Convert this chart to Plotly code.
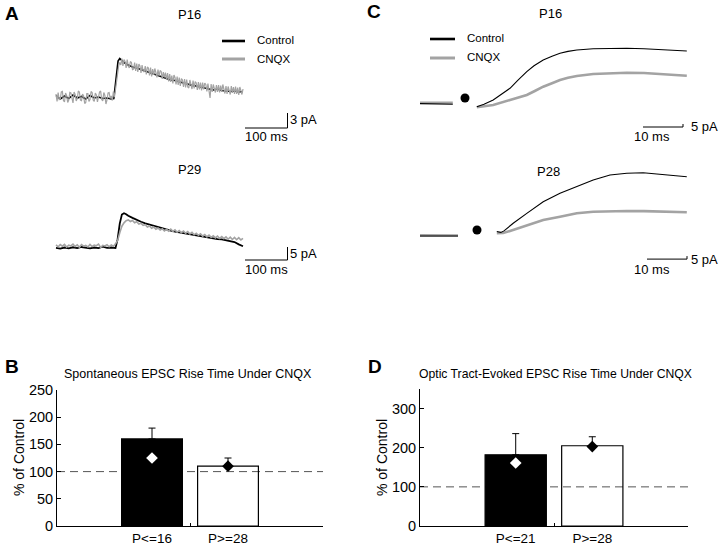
import plotly.graph_objects as go

FONT = "Liberation Sans, Arial, Helvetica, sans-serif"
W, H = 720, 547

# ---------------- data ----------------
# Panel A: spontaneous EPSCs (time in ms, current in pA)
a16_dt = 2.5  # P16 CNQX sweep sampled every 2.5 ms from t = 0
a16_cnqx = [0.6, -0.9, 0.9, -0.5, -0.4, 1.0, 1.1, -0.7, -1.0, 0.8,
            0.3, -1.1, -0.6, 0.9, 0.8, -0.4, -1.2, 1.0, 0.5, -0.8,
            -0.3, 1.2, 1.0, -0.6, -0.7, 0.6, 0.2, -1.3, -1.1, 0.7,
            0.7, -0.9, -0.5, 1.1, 0.9, -0.6, -0.9, 0.8, 0.4, -1.0,
            -0.2, 1.0, 1.2, -0.5, -0.8, 0.9, 0.3, -1.4, -0.6, 0.8,
            0.9, -0.3, 0.2, -0.7, 1.1, 0.0,
            1.5, 3.5, 5.5, 6.3, 6.9,
            6.4, 7.7, 6.2, 7.5, 7.1, 5.8, 7.5, 6.2, 5.8, 7.1, 6.9, 5.5,
            5.6, 6.9, 5.2, 6.7, 5.0, 6.6, 6.2, 4.8, 6.4, 5.2, 5.0, 6.2, 4.5, 6.0, 5.8, 4.3,
            5.9, 4.1, 5.6, 4.4, 5.7, 4.9, 3.9, 5.5, 4.2, 5.3, 5.1, 3.6, 5.0, 3.9, 4.9, 3.4,
            4.8, 3.1, 4.6, 3.0, 4.3, 2.7, 4.4, 3.9, 2.5, 4.1, 2.4, 3.9, 2.2, 3.7, 3.4, 2.0,
            3.6, 1.9, 3.5, 2.0, 1.8, 3.4, 2.4, 1.6, 3.3, 1.7, 3.1, 2.8, 1.4, 3.0, 1.5, 2.9,
            1.3, 2.9, 1.5, 2.8, 2.5, 1.1, 2.7, 1.2, -0.2, 2.6, 1.0, 2.5, 1.6, 0.9, 2.4, 1.0,
            2.4, 0.9, 2.3, 1.0, 2.5, 1.8, 0.7, 2.2, 0.6, 2.1, 1.5, 0.5, 2.2, 0.8, 2.0, 0.6,
            2.1, 0.6, 1.9, 0.4, 2.0, 1.3, 0.5, 1.6]
a16_ctrl_t = [0, 10, 20, 30, 40, 50, 60, 70, 80, 90, 100, 110, 120, 130,
              136, 141, 146, 150, 155, 160,
              170, 180, 190, 200, 210, 220, 230, 240, 250, 260, 270, 280, 290, 300,
              310, 320, 330, 340, 350, 360, 370, 380, 390, 400, 410, 420, 430, 440]
a16_ctrl = [0.3, -0.4, 0.2, -0.3, 0.4, -0.2, 0.1, -0.4, 0.3, -0.2, 0.0, -0.3, -0.2, -0.4,
            -0.3, 3.5, 7.2, 7.7, 7.2, 6.9,
            6.4, 6.0, 5.8, 5.5, 5.2, 4.9, 4.6, 4.3, 4.0, 3.7, 3.4, 3.3, 3.0, 2.8,
            2.6, 2.3, 2.2, 2.0, 1.9, 1.7, 1.4, 1.6, 1.3, 1.2, 1.1, 1.2, 1.0, 1.1]
a29_dt = 5  # P29 CNQX sweep sampled every 5 ms from t = 0
a29_cnqx = [0.8, 0.1, 0.9, 0.3, 1.0, 0.0, 0.7, 0.4, 1.1, 0.2, 0.8, -0.1, 0.9, 0.3, 0.6,
            0.0, 1.0, 0.2, 0.7, 0.5, 1.1, -0.2, 0.6, 0.4, 0.9, 0.1, 0.8, 0.3, 1.2,
            2.5, 5.5, 8.0, 9.3, 10.1, 10.4, 9.8, 10.2, 9.3, 9.7,
            8.8, 9.1, 8.3, 8.6, 7.7, 8.1, 7.2, 7.7, 6.8, 7.3,
            6.5, 7.0, 6.2, 6.8, 6.1, 6.9, 6.0, 6.6, 5.7, 6.3,
            5.5, 6.1, 5.3, 5.9, 5.0, 5.6, 4.7, 5.3, 4.5, 5.1,
            4.2, 4.8, 3.9, 4.6, 3.7, 4.3, 3.5, 4.2, 3.3, 4.0,
            3.2, 3.9, 3.0, 3.8, 2.9, 3.7, 2.8, 3.6, 2.7, 3.3]
a29_ctrl_t = [0, 10, 20, 30, 40, 50, 60, 70, 80, 90, 100, 110, 120, 130, 140,
              145, 150, 155, 160, 165, 170,
              180, 190, 200, 210, 220, 230, 240, 250, 260, 270, 280, 290, 300, 310,
              320, 330, 340, 350, 360, 370, 380, 390, 400, 410, 420, 430, 440]
a29_ctrl = [-0.3, -0.6, -0.2, -0.5, -0.1, -0.4, 0.0, -0.3, -0.5, -0.2, -0.4, 0.1, -0.3, -0.2, -0.4,
            3.0, 9.0, 12.5, 13.0, 12.6, 12.0,
            11.2, 10.3, 9.7, 9.1, 8.6, 8.1, 7.5, 7.0, 6.6, 6.3, 5.9, 5.6, 5.4, 5.0,
            4.6, 4.3, 4.1, 3.8, 3.4, 3.2, 3.0, 2.9, 2.6, 2.2, 1.9, 1.0, 0.3]
a_scale_ms = 100
a16_scale_pa = 3
a29_scale_pa = 5

# Panel C: optic-tract evoked EPSCs (time in ms, current in pA)
c16_ctrl_t = [0, 2, 4, 6, 8.2, None, 14.2, 16, 18.3, 20, 22.5, 24.5, 26.7, 28.5, 30.8, 33,
              35, 37, 39.2, 43.3, 47, 51.7, 56, 60, 63, 66.7]
c16_ctrl = [-1, -1, -1.5, -1.5, -2, None, -6.2, -2, 5, 13, 24.5, 38, 52.2, 62, 71.7, 78,
            82.8, 86, 88.3, 90.5, 91, 91.2, 90.5, 89.5, 88.5, 86.7]
c16_cnqx_t = [0, 2, 4, 6, 8.2, None, 14.2, 18.3, 22.5, 24.5, 26.7, 28.7, 30.8, 33, 35, 37,
              39.2, 43.3, 47.5, 51.7, 56, 60, 63, 66.7]
c16_cnqx = [0.5, 0.7, 0.4, 0.6, 0.5, None, -7.2, -3.3, 5, 8.5, 13.3, 20, 27.2, 33, 38.3, 42,
            45, 48.3, 50, 50.5, 50, 48.3, 47, 45.5]
c28_ctrl_t = [0, 2.5, 5, 7.5, 9.5, None, 19.2, 20.2, 21, 23.3, 26.7, 30.8, 35, 39.2, 43.3,
              47.5, 51.7, 55.8, 60, 63.5, 66.7]
c28_ctrl = [-0.5, -0.2, -0.8, -0.3, -0.5, None, 7, 5.5, 8, 20.7, 37.3, 56.7, 70.7, 81.7, 92.8,
            101.2, 104, 105, 102.8, 101, 98.3]
c28_cnqx_t = [0, 2.5, 5, 7.5, 9.5, None, 19.2, 20.8, 22.5, 26.7, 30.8, 35, 39.2, 43.3, 47.5,
              51.7, 56, 60, 63.5, 66.7]
c28_cnqx = [0.5, 0.8, 0.3, 0.6, 0.4, None, 4, 4.5, 8, 17.8, 26.2, 31.7, 37.3, 40, 41,
            41.2, 41, 40, 39.5, 39]
c16_stim = (11.25, 8.3)   # stimulus marker (ms, pA)
c28_stim = (14.25, 9.5)
c_scale_ms = 10
c_scale_pa = 5

# Panels B and D: rise time under CNQX (% of control)
b_groups = ["P<=16", "P>=28"]
b_mean = [160, 110]
b_err = [20, 15]
b_diamond = [125, 110]

d_groups = ["P<=21", "P>=28"]
d_mean = [182, 205]
d_err = [54, 23]
d_diamond = [161, 203]

b_yticks = [0, 50, 100, 150, 200, 250]
d_yticks = [0, 100, 200, 300]

# ---------------- figure ----------------
GRAY = "#a3a3a3"
fig = go.Figure()
layout = {}


def trace_axes(n, px_left, px_right, t0_px, px_per_ms, py_top, py_bot, base_py, px_per_pa):
    xr = [(px_left - t0_px) / px_per_ms, (px_right - t0_px) / px_per_ms]
    yr = [(base_py - py_bot) / px_per_pa, (base_py - py_top) / px_per_pa]
    sfx = "" if n == 1 else str(n)
    layout["xaxis" + sfx] = dict(domain=[px_left / W, px_right / W], range=xr, visible=False,
                                 anchor="y" + sfx, fixedrange=True, automargin=False)
    layout["yaxis" + sfx] = dict(domain=[1 - py_bot / H, 1 - py_top / H], range=yr, visible=False,
                                 anchor="x" + sfx, fixedrange=True, automargin=False)
    return "x" + sfx, "y" + sfx


def line(xa, ya, x, y, color, width):
    fig.add_trace(go.Scatter(x=x, y=y, mode="lines", xaxis=xa, yaxis=ya,
                             line=dict(color=color, width=width), hoverinfo="skip",
                             showlegend=False, connectgaps=False))


def scalebar(xa, ya, t0, v0, dt, dv):
    line(xa, ya, [t0, t0 + dt, t0 + dt], [v0, v0, v0 + dv], "black", 1)


# A top (P16)
xa, ya = trace_axes(1, 50, 300, 56, 0.425, 30, 145, 97, 5.0)
line(xa, ya, a16_ctrl_t, a16_ctrl, "black", 1.6)
line(xa, ya, [i * a16_dt for i in range(len(a16_cnqx))], a16_cnqx, GRAY, 1.2)
scalebar(xa, ya, 444.7, -6.2, a_scale_ms, a16_scale_pa)

# A bottom (P29)
xa, ya = trace_axes(2, 50, 300, 56, 0.425, 175, 280, 247, 2.6)
line(xa, ya, a29_ctrl_t, a29_ctrl, "black", 1.8)
line(xa, ya, [i * a29_dt for i in range(len(a29_cnqx))], a29_cnqx, GRAY, 1.6)
scalebar(xa, ya, 444.7, -5.0, a_scale_ms, a29_scale_pa)

# C top (P16)
xa, ya = trace_axes(3, 410, 715, 420, 4.0, 30, 145, 103, 0.6)
line(xa, ya, c16_cnqx_t, c16_cnqx, GRAY, 2.6)
line(xa, ya, c16_ctrl_t, c16_ctrl, "black", 1.1)
fig.add_trace(go.Scatter(x=[c16_stim[0]], y=[c16_stim[1]], mode="markers", xaxis=xa, yaxis=ya,
                         marker=dict(color="black", size=9), showlegend=False, hoverinfo="skip"))
scalebar(xa, ya, 55.75, -40, c_scale_ms, c_scale_pa)

# C bottom (P28)
xa, ya = trace_axes(4, 410, 715, 420, 4.0, 160, 280, 235.7, 0.6)
line(xa, ya, c28_cnqx_t, c28_cnqx, GRAY, 2.6)
line(xa, ya, c28_ctrl_t, c28_ctrl, "black", 1.1)
fig.add_trace(go.Scatter(x=[c28_stim[0]], y=[c28_stim[1]], mode="markers", xaxis=xa, yaxis=ya,
                         marker=dict(color="black", size=9), showlegend=False, hoverinfo="skip"))
scalebar(xa, ya, 56.75, -39, c_scale_ms, c_scale_pa)


# Bar panels
def bar_panel(n, px_left, px_right, py_top, py_bot, ymax, groups, mean, err, diamond, yticks):
    sfx = str(n)
    xa, ya = "x" + sfx, "y" + sfx
    layout["xaxis" + sfx] = dict(domain=[px_left / W, px_right / W], range=[-0.25, 3.25],
                                 anchor=ya, showline=True, linecolor="black", linewidth=1,
                                 tickmode="array", tickvals=[1, 2], ticktext=groups, ticks="",
                                 ticklabelstandoff=0, showgrid=False, zeroline=False,
                                 tickfont=dict(family=FONT, size=13.5, color="black"),
                                 minor=dict(tickmode="array", tickvals=[1.5], ticks="inside",
                                            ticklen=3, tickcolor="black", showgrid=False),
                                 fixedrange=True, automargin=False)
    layout["yaxis" + sfx] = dict(domain=[1 - py_bot / H, 1 - py_top / H], range=[0, ymax],
                                 anchor=xa, showline=True, linecolor="black", linewidth=1,
                                 tickmode="array", tickvals=yticks, ticks="inside", ticklen=4,
                                 tickcolor="black", showgrid=False, zeroline=False,
                                 tickfont=dict(family=FONT, size=14.5, color="black"),
                                 fixedrange=True, automargin=False)
    fig.add_trace(go.Bar(x=[1, 2], y=mean, width=0.8, xaxis=xa, yaxis=ya,
                         marker=dict(color=["black", "rgba(0,0,0,0)"],
                                     line=dict(color="black", width=1.2)),
                         error_y=dict(type="data", symmetric=False, array=err,
                                      arrayminus=[0, 0], color="black", thickness=1, width=3.5),
                         showlegend=False, hoverinfo="skip"))
    fig.add_trace(go.Scatter(x=[1, 2], y=diamond, mode="markers", xaxis=xa, yaxis=ya,
                             marker=dict(symbol="diamond", size=9, color=["white", "black"],
                                         line=dict(width=0)),
                             showlegend=False, hoverinfo="skip"))
    return xa, ya


bxa, bya = bar_panel(5, 57, 323, 390, 526, 250, b_groups, b_mean, b_err, b_diamond, b_yticks)
dxa, dya = bar_panel(6, 420, 688, 389, 526, 350, d_groups, d_mean, d_err, d_diamond, d_yticks)

shapes = []
for xa, ya in [(bxa, bya), (dxa, dya)]:
    shapes.append(dict(type="line", xref=xa, yref=ya, x0=-0.25, x1=3.25, y0=100, y1=100,
                       line=dict(color="#555555", width=1, dash="8px,5px"), layer="below"))


# legends drawn as short line keys
def key(x0, x1, y, color, width):
    shapes.append(dict(type="line", xref="paper", yref="paper", x0=x0 / W, x1=x1 / W,
                       y0=1 - y / H, y1=1 - y / H, line=dict(color=color, width=width)))


key(222, 245, 41, "black", 2.6)
key(222, 245, 59, GRAY, 3)
key(430, 455, 39, "black", 2.6)
key(430, 455, 58, GRAY, 3)

annotations = []


def text(s, x, y, size, xanchor="center", bold=False, angle=0):
    annotations.append(dict(text=("<b>%s</b>" % s) if bold else s, x=x / W, y=1 - y / H,
                            xref="paper", yref="paper", xanchor=xanchor, yanchor="middle",
                            showarrow=False, textangle=angle, borderpad=0,
                            font=dict(family=FONT, size=size, color="black")))


text("A", 12, 13, 19, bold=True)
text("C", 374, 11, 19, bold=True)
text("B", 12, 366, 19, bold=True)
text("D", 375, 366, 19, bold=True)
text("P16", 189, 14, 13)
text("P29", 189, 170, 13)
text("P16", 550, 13, 13)
text("P28", 548, 171, 13)
text("Control", 256, 40, 11.5, xanchor="left")
text("CNQX", 256, 59, 11.5, xanchor="left")
text("Control", 466, 38, 11.5, xanchor="left")
text("CNQX", 466, 57, 11.5, xanchor="left")
text("3 pA", 289, 119, 13, xanchor="left")
text("100 ms", 244, 137, 13, xanchor="left")
text("5 pA", 289, 254, 13, xanchor="left")
text("100 ms", 244, 269, 13, xanchor="left")
text("5 pA", 690, 126, 13, xanchor="left")
text("10 ms", 633, 136, 13, xanchor="left")
text("5 pA", 690, 259, 13, xanchor="left")
text("10 ms", 633, 269, 13, xanchor="left")
text("Spontaneous EPSC Rise Time Under CNQX", 188, 374, 12.5)
text("Optic Tract-Evoked EPSC Rise Time Under CNQX", 555, 374, 12.2)
text("% of Control", 19, 458, 14, angle=-90)
text("% of Control", 382, 458, 14, angle=-90)

fig.update_layout(template="none", width=W, height=H, autosize=False,
                  margin=dict(l=0, r=0, t=0, b=0, pad=0),
                  paper_bgcolor="white", plot_bgcolor="white", showlegend=False,
                  font=dict(family=FONT, color="black"),
                  shapes=shapes, annotations=annotations, **layout)
fig.write_html("out.html", config={"displayModeBar": False},
               post_script="document.body.style.margin='0';"
                           "document.body.style.overflow='hidden';")
